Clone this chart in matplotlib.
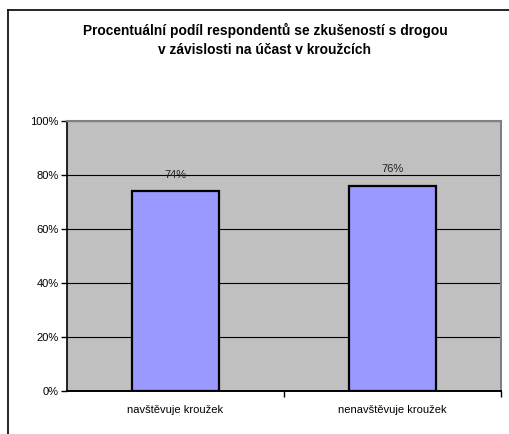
import numpy as np
from matplotlib import pyplot as plt
from matplotlib.lines import Line2D

categories = ["navštěvuje kroužek", "nenavštěvuje kroužek"]
values = [74, 76]
labels = ["74%", "76%"]
yticks = [0, 20, 40, 60, 80, 100]
title = "Procentuální podíl respondentů se zkušeností s drogou\nv závislosti na účast v kroužcích"

plt.rcParams['font.family'] = ['Liberation Sans', 'DejaVu Sans']

fig = plt.figure(figsize=(5.1, 4.34), dpi=100)
W, H = 510, 434
ax = fig.add_axes([67 / W, 1 - 391 / H, 434 / W, 270 / H])

# outer chart frame (left and top edges visible)
fig.add_artist(Line2D([8 / W, 8 / W], [0, 1 - 10 / H], color='black', lw=1.2,
                      transform=fig.transFigure))
fig.add_artist(Line2D([8 / W, 1], [1 - 10 / H, 1 - 10 / H], color='black', lw=1.2,
                      transform=fig.transFigure))

x = np.arange(len(categories))
ax.set_facecolor('#C0C0C0')
ax.set_axisbelow(True)
ax.yaxis.grid(True, color='black', lw=0.8)
ax.bar(x, values, width=0.4, color='#9999FF', edgecolor='black', lw=1.6, zorder=3)
for xi, v, lab in zip(x, values, labels):
    ax.text(xi, v + 4.2, lab, ha='center', va='bottom', fontsize=8, color='#222222')

ax.set_xlim(-0.5, len(categories) - 0.5)
ax.set_ylim(0, 100)
ax.set_yticks(yticks)
ax.set_yticklabels([f"{t}%" for t in yticks], fontsize=8)
ax.set_xticks(x)
ax.set_xticklabels(categories, fontsize=8)
ax.tick_params(axis='x', length=0, pad=10)
ax.set_xticks([0.5, 1.5], minor=True)
ax.tick_params(axis='x', which='minor', length=4, width=1, direction='out')
ax.tick_params(axis='y', length=4, width=1, direction='out', pad=2)

ax.spines['left'].set_linewidth(1.2)
ax.spines['bottom'].set_linewidth(1.4)
ax.spines['top'].set_color('#808080')
ax.spines['right'].set_color('#808080')
ax.spines['top'].set_linewidth(1.5)
ax.spines['right'].set_linewidth(1.5)

fig.text(265 / W, 1 - 40 / H, title, ha='center', va='center', fontsize=9.9,
         fontweight='bold', linespacing=1.45)

fig.savefig('out.png', dpi=100)
